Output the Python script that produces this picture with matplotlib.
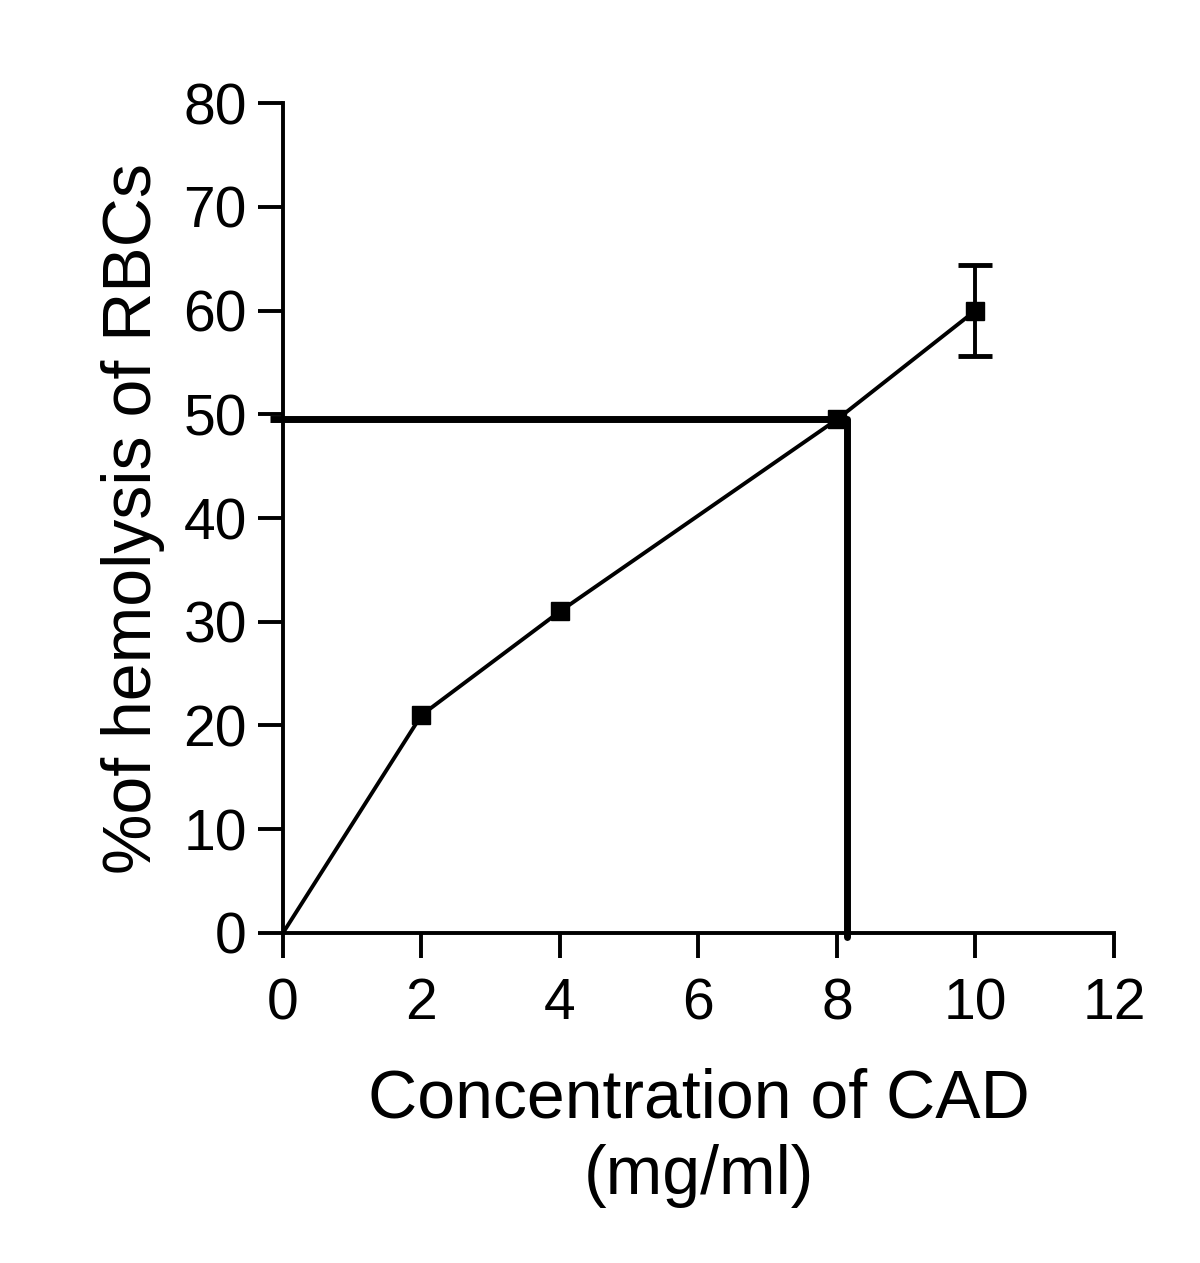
import numpy as np
import matplotlib
matplotlib.use("Agg")
import matplotlib.pyplot as plt

plt.rcParams['font.family'] = ['Liberation Sans', 'DejaVu Sans']

# data
conc = [0, 2, 4, 8, 10]
hemolysis = [0, 21, 31, 49.5, 60]
err_x = [10]
err_y = [60]
err_size = [4.4]
x_ticks = [0, 2, 4, 6, 8, 10, 12]
y_ticks = [0, 10, 20, 30, 40, 50, 60, 70, 80]
hc50 = 8.15
hc50_level = 49.5

fig = plt.figure(figsize=(12, 12.63), dpi=100)
ax = fig.add_axes([0.2358, 0.2613, 0.6925, 0.6571])

ax.plot(conc, hemolysis, '-k', lw=2.8, zorder=3)
ax.plot(conc[1:], hemolysis[1:], 's', color='k', ms=13, zorder=4)
ax.errorbar(err_x, err_y, yerr=err_size, fmt='none', ecolor='k',
            capsize=12, elinewidth=2.8, capthick=3.5, zorder=4)

# 50% guide lines
ax.plot([-0.18, hc50], [hc50_level, hc50_level], '-k', lw=5,
        solid_capstyle='butt', clip_on=False, zorder=2)
ax.plot([hc50, hc50], [hc50_level, -0.4], '-k', lw=5,
        solid_capstyle='round', clip_on=False, zorder=2)

ax.set_xlim(0, 12)
ax.set_ylim(0, 80)
ax.set_xticks(x_ticks)
ax.set_yticks(y_ticks)
for s in ['top', 'right']:
    ax.spines[s].set_visible(False)
for s in ['left', 'bottom']:
    ax.spines[s].set_linewidth(2.8)
ax.tick_params(direction='out', length=18, width=2.8, labelsize=41)
ax.tick_params(axis='x', pad=14)
ax.tick_params(axis='y', pad=8)

ax.set_xlabel("Concentration of CAD\n(mg/ml)", fontsize=49, labelpad=26,
              linespacing=1.25)
ax.set_ylabel("%of hemolysis of RBCs", fontsize=49, labelpad=13)

fig.savefig("out.png", dpi=100)
